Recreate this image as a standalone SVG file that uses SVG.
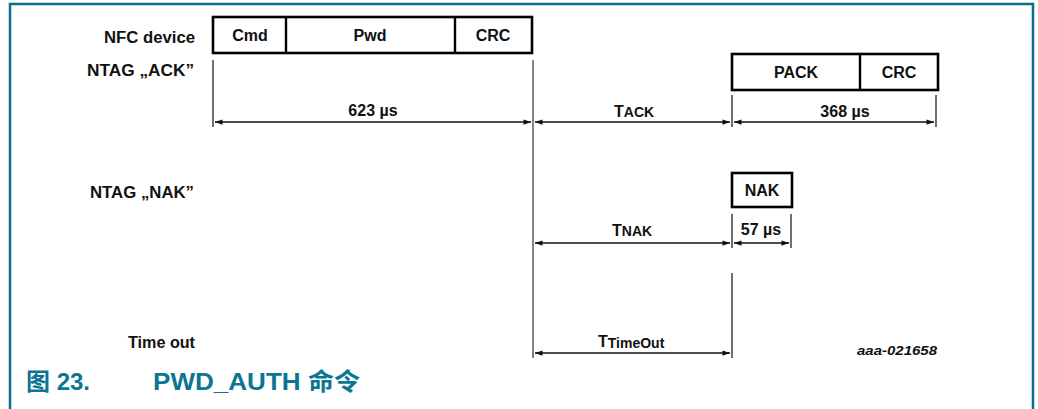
<svg xmlns="http://www.w3.org/2000/svg" width="1038" height="409" viewBox="0 0 1038 409">
<style>
.frame{fill:none;stroke:#0b6f8c;stroke-width:2.5}
.box{fill:#fff;stroke:#000;stroke-width:2.6}
.div{stroke:#000;stroke-width:2.4}
.lbl{font-family:"Liberation Sans",Arial,sans-serif;font-weight:bold;font-size:16px;fill:#111}
.ctr{text-anchor:middle}
.rt{text-anchor:end}
.vl{stroke:#333;stroke-width:1.4}
.vg{stroke:#666;stroke-width:1.6}
.dim{stroke:#111;stroke-width:1.5;fill:none;marker-start:url(#ah);marker-end:url(#ah)}
.cap{font-family:"Liberation Sans",Arial,"Noto Sans CJK SC",sans-serif;font-weight:bold;font-size:24px;fill:#0b7592}
.sub{font-size:14px}
.id{font-family:"Liberation Sans",Arial,sans-serif;font-weight:bold;font-style:italic;font-size:13px;fill:#111}
</style>
<defs>
<marker id="ah" viewBox="0 0 10 8" refX="10" refY="4" markerWidth="8" markerHeight="6" markerUnits="userSpaceOnUse" orient="auto-start-reverse">
<path d="M0,0.5 L10,4 L0,7.5 z" fill="#111"/>
</marker>
</defs>
<rect width="1038" height="409" fill="#fff"/>
<path class="frame" d="M10,412 V4 H1033 V412"/>

<g id="labels">
<text class="lbl rt" x="195" y="43" textLength="91" lengthAdjust="spacingAndGlyphs">NFC device</text>
<text class="lbl rt" x="194" y="76" textLength="107" lengthAdjust="spacingAndGlyphs">NTAG „ACK”</text>
<text class="lbl rt" x="194" y="198" textLength="104" lengthAdjust="spacingAndGlyphs">NTAG „NAK”</text>
<text class="lbl rt" x="195" y="348" textLength="67" lengthAdjust="spacingAndGlyphs">Time out</text>
</g>

<g id="nfc-frame">
<rect class="box" x="213" y="17" width="319" height="36"/>
<line class="div" x1="286" y1="17" x2="286" y2="53"/>
<line class="div" x1="455" y1="17" x2="455" y2="53"/>
<text class="lbl ctr" x="250" y="41">Cmd</text>
<text class="lbl ctr" x="370" y="41">Pwd</text>
<text class="lbl ctr" x="493" y="41">CRC</text>
</g>

<g id="ack-frame">
<rect class="box" x="732" y="54" width="206" height="36"/>
<line class="div" x1="860" y1="54" x2="860" y2="90"/>
<text class="lbl ctr" x="796" y="78">PACK</text>
<text class="lbl ctr" x="899" y="78">CRC</text>
</g>

<g id="nak-frame">
<rect class="box" x="732" y="173" width="60" height="34"/>
<text class="lbl ctr" x="762" y="196">NAK</text>
</g>

<g id="connectors">
<line class="vl" x1="213" y1="60" x2="213" y2="127"/>
<line class="vg" x1="533" y1="60" x2="533" y2="358"/>
<line class="vl" x1="732" y1="95" x2="732" y2="127"/>
<line class="vl" x1="936" y1="95" x2="936" y2="127"/>
<line class="vl" x1="732" y1="214" x2="732" y2="248"/>
<line class="vl" x1="791" y1="214" x2="791" y2="248"/>
<line class="vl" x1="732" y1="273" x2="732" y2="358"/>

<line class="dim" x1="215" y1="122" x2="531" y2="122"/>
<line class="dim" x1="535" y1="122" x2="730" y2="122"/>
<line class="dim" x1="734" y1="122" x2="934" y2="122"/>
<line class="dim" x1="535" y1="243" x2="730" y2="243"/>
<line class="dim" x1="734" y1="243" x2="789" y2="243"/>
<line class="dim" x1="535" y1="353" x2="730" y2="353"/>
</g>

<g id="dim-labels">
<text class="lbl ctr" x="373" y="116">623 µs</text>
<text class="lbl" x="614" y="117">T<tspan class="sub">ACK</tspan></text>
<text class="lbl ctr" x="845" y="117">368 µs</text>
<text class="lbl" x="612" y="236">T<tspan class="sub">NAK</tspan></text>
<text class="lbl ctr" x="761" y="235">57 µs</text>
<text class="lbl" x="598" y="347">T<tspan class="sub" dy="1">TimeOut</tspan></text>
<text class="id" x="857" y="355" textLength="80" lengthAdjust="spacingAndGlyphs">aaa-021658</text>
</g>

<g id="caption">
<text class="cap" x="26" y="390">图 23.</text>
<text class="cap" x="153" y="390" textLength="207" lengthAdjust="spacingAndGlyphs">PWD_AUTH 命令</text>
</g>
</svg>
